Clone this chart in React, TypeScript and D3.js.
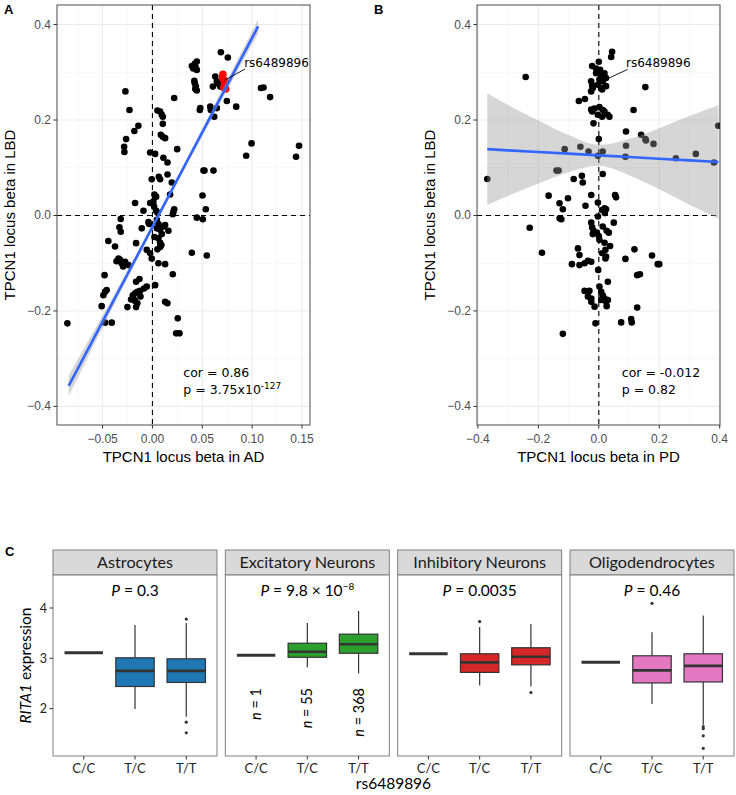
import React from 'react';
import * as d3 from 'd3';

// ---------------- Panel A data (x: beta in AD, y: beta in LBD) ----------------
const aPoints: [number, number][] = [
  [0.0686,0.342],[0.0756,0.331],
  [0.0445,0.3225],[0.0425,0.318],[0.0395,0.313],[0.0432,0.311],[0.0445,0.305],[0.041,0.308],
  [0.042,0.282],[0.0425,0.277],[0.0435,0.270],[0.043,0.265],[0.0445,0.262],
  [0.048,0.225],[0.0475,0.221],
  [0.058,0.228],[0.0585,0.221],[0.0646,0.225],[0.062,0.207],
  [0.063,0.291],[0.0606,0.270],[0.068,0.27],[0.0646,0.281],[0.066,0.276],
  [0.0746,0.240],[0.084,0.228],[0.1088,0.267],[0.1114,0.268],[0.118,0.248],
  [0.0994,0.151],[0.094,0.125],[0.147,0.146],[0.144,0.123],
  [0.0512,0.094],[0.0522,0.094],[0.0612,0.094],
  [0.0502,0.042],[0.0535,0.013],[0.0445,-0.0045],[0.0505,-0.008],
  [0.0395,-0.078],[0.0545,-0.084],
  [0.0218,0.246],[0.0248,0.139],
  [-0.0271,0.260],[-0.023,0.221],[-0.0141,0.188],[-0.0181,0.177],[-0.0264,0.160],[-0.0284,0.144],[-0.0281,0.133],
  [0.005,0.22],[0.0077,0.218],[0.0094,0.211],[0.0104,0.207],[0.0104,0.192],
  [0.0084,0.169],[0.0104,0.165],[0.0127,0.162],
  [-0.0023,0.132],[0.0027,0.129],[0.011,0.121],[0.0151,0.111],
  [0.0151,0.086],[0.0064,0.081],[0.0077,0.076],[-0.0007,0.076],[0.0194,0.069],
  [0.002,0.044],[0.0037,0.0395],[0.001,0.029],[0.0177,0.044],[-0.0023,0.026],[-0.0174,0.026],[-0.009,0.010],
  [0.0017,0.0185],[0.0037,0.010],[0.005,0.006],
  [0.0218,0.013],[0.0211,0.008],[0.0204,0.0025],
  [-0.0318,-0.0073],[-0.0331,-0.0248],[-0.0318,-0.034],
  [-0.004,-0.014],[-0.0033,-0.018],[-0.0107,-0.027],
  [0.0044,-0.009],[0.006,-0.018],[0.0044,-0.027],[0.0077,-0.030],[0.0094,-0.039],[0.011,-0.023],[0.016,-0.032],
  [0.0127,-0.020],[0.006,-0.048],[0.0077,-0.057],[0.0077,-0.066],[0.005,-0.071],[0.009,-0.062],[0.002,-0.045],
  [-0.0442,-0.0535],[-0.0375,-0.065],[-0.0164,-0.058],
  [-0.0057,-0.072],[-0.0023,-0.079],[-0.0007,-0.090],
  [-0.034,-0.090],[-0.0325,-0.093],[-0.031,-0.100],[-0.0294,-0.107],[-0.0274,-0.097],[-0.0241,-0.104],[-0.036,-0.096],
  [0.006,-0.1],[0.0127,-0.102],
  [-0.013,-0.133],[-0.0164,-0.139],[-0.048,-0.125],
  [-0.0459,-0.156],[-0.0475,-0.16],[-0.0492,-0.167],[-0.0509,-0.190],
  [0.0204,-0.123],[0.0027,-0.146],
  [-0.0057,-0.149],[-0.0084,-0.153],[-0.0124,-0.158],[-0.0151,-0.160],[-0.0174,-0.163],[-0.0197,-0.167],
  [-0.0214,-0.176],[-0.0174,-0.179],[-0.0151,-0.184],[-0.0164,-0.192],[-0.0251,-0.192],[-0.019,-0.174],[-0.012,-0.170],
  [0.0127,-0.181],[0.015,-0.184],
  [-0.0853,-0.226],[-0.0475,-0.2246],[-0.0408,-0.2246],
  [0.0254,-0.2155],[0.0238,-0.247],[0.0271,-0.247],
];
const aHighlight: [number, number][] = [
  [0.0707,0.296],[0.0702,0.288],[0.072,0.283],[0.0725,0.275],[0.0715,0.268],[0.073,0.280],[0.0735,0.265],
];
const aFitX = [-0.084, -0.06, -0.03, 0, 0.03, 0.06, 0.085, 0.106];
const aFitY = [-0.357, -0.262, -0.143, -0.024, 0.095, 0.214, 0.313, 0.396];
const aBandHalf = [0.022, 0.015, 0.009, 0.006, 0.006, 0.009, 0.012, 0.015];
const aXTicks = [-0.05, 0, 0.05, 0.1, 0.15];
const aXTickLabels = ['\u22120.05', '0.00', '0.05', '0.10', '0.15'];
const aXMinor = [-0.075, -0.025, 0.025, 0.075, 0.125];

// ---------------- Panel B data (x: beta in PD, y: beta in LBD) ----------------
const bPoints: [number, number][] = [
  [0.044,0.343],[0.041,0.332],[-0.242,0.290],
  [0,0.322],[-0.022,0.313],[-0.009,0.308],[0.0044,0.305],[-0.009,0.298],[0.0077,0.294],[0.0132,0.291],
  [0.0187,0.298],[0.024,0.288],[0.002,0.285],[0.0132,0.281],[-0.0033,0.274],[-0.0253,0.281],[-0.022,0.272],
  [-0.0198,0.267],[0.0077,0.267],[0.024,0.271],[0.011,0.264],[-0.0253,0.260],
  [-0.066,0.240],[-0.046,0.244],[0.154,0.269],
  [-0.0253,0.222],[-0.0143,0.224],[-0.022,0.218],[0.002,0.227],[0.0132,0.221],[0.0187,0.218],
  [0.0297,0.211],[0.0352,0.207],[0.011,0.207],[-0.0033,0.211],
  [-0.0175,0.193],[0.115,0.221],[0.395,0.188],[0.090,0.176],[0,0.160],
  [0.140,0.169],[0.154,0.160],[0.156,0.157],[0.181,0.150],[0.090,0.146],
  [-0.061,0.144],[-0.113,0.139],[-0.034,0.134],[0.013,0.134],[-0.003,0.125],[0.088,0.123],
  [0.255,0.120],[0.321,0.129],[0.381,0.111],[-0.369,0.0765],
  [-0.140,0.094],[-0.133,0.094],[0.013,0.087],
  [-0.083,0.0765],[-0.056,0.083],[-0.053,0.069],
  [-0.166,0.0415],[-0.102,0.036],[-0.025,0.043],[0.054,0.043],[0.057,0.038],
  [-0.130,0.0255],[-0.119,0.013],[-0.044,0.0205],[-0.003,0.027],[0.019,0.015],[0.024,0.013],[0.011,0.0115],
  [0.02,0.005],[-0.003,-0.002],[-0.1296,-0.006],[-0.124,-0.008],
  [-0.2286,-0.0256],[-0.188,-0.078],
  [-0.025,-0.015],[-0.022,-0.025],[-0.0175,-0.032],[-0.0066,-0.036],[-0.02,-0.039],[0,-0.043],
  [0.013,-0.023],[0.026,-0.032],[0.033,-0.036],[0.002,-0.051],[0.019,-0.057],[0.0376,-0.064],
  [0.022,-0.072],[0.011,-0.079],[0.024,-0.086],[0.022,-0.090],[0.0495,-0.015],
  [-0.069,-0.069],[-0.064,-0.083],[-0.089,-0.102],[-0.064,-0.104],[-0.047,-0.100],[-0.036,-0.095],[-0.025,-0.097],
  [-0.002,-0.114],
  [0.118,-0.071],[0.088,-0.091],[0.176,-0.084],[0.195,-0.102],[0.2,-0.102],
  [0.127,-0.125],[0.136,-0.123],[0.030,-0.139],
  [-0.047,-0.158],[-0.031,-0.158],[-0.036,-0.170],[-0.025,-0.181],[0.002,-0.149],[0.008,-0.160],[0.013,-0.167],
  [0.019,-0.174],[0.030,-0.177],[0.026,-0.190],[-0.014,-0.191],[0.008,-0.177],[0.024,-0.181],[-0.025,-0.174],
  [0.127,-0.193],[-0.011,-0.226],
  [0.074,-0.224],[0.107,-0.217],[0.109,-0.224],[-0.119,-0.248],
];
const bFitX = [-0.369, -0.3, -0.2, -0.1, 0, 0.1, 0.2, 0.3, 0.396];
const bFitY = [0.139, 0.1365, 0.133, 0.1295, 0.126, 0.1225, 0.119, 0.1155, 0.112];
const bBandHalf = [0.117, 0.095, 0.066, 0.039, 0.022, 0.038, 0.064, 0.093, 0.119];
const bXTicks = [-0.4, -0.2, 0, 0.2, 0.4];
const bXTickLabels = ['\u22120.4', '\u22120.2', '0.0', '0.2', '0.4'];
const bXMinor = [-0.3, -0.1, 0.1, 0.3];

const lbdYTicks = [-0.4, -0.2, 0, 0.2, 0.4];
const lbdYTickLabels = ['\u22120.4', '\u22120.2', '0.0', '0.2', '0.4'];
const lbdYMinor = [-0.3, -0.1, 0.1, 0.3];

// ---------------- Panel C data ----------------
const cellTypes = ['Astrocytes', 'Excitatory Neurons', 'Inhibitory Neurons', 'Oligodendrocytes'];
const genotypes = ['C/C', 'T/C', 'T/T'];
const cellColors = ['#1f77b4', '#2ca02c', '#d62728', '#e377c2'];
// [lower whisker, q1, median, q3, upper whisker]
const astrocytesBox = [[3.11,3.11,3.11,3.11,3.11],[1.99,2.44,2.75,3.01,3.66],[1.84,2.52,2.75,2.99,3.70]];
const astrocytesOut = [[], [], [1.73, 1.52, 3.78]];
const excitatoryBox = [[3.06,3.06,3.06,3.06,3.06],[2.82,3.02,3.13,3.30,3.70],[2.70,3.10,3.28,3.48,3.94]];
const excitatoryOut: number[][] = [[], [], []];
const inhibitoryBox = [[3.09,3.09,3.09,3.09,3.09],[2.46,2.72,2.92,3.09,3.62],[2.44,2.87,3.03,3.21,3.68]];
const inhibitoryOut = [[], [3.73], [2.32]];
const oligoBox = [[2.92,2.92,2.92,2.92,2.92],[2.09,2.51,2.76,3.05,3.52],[1.68,2.53,2.85,3.09,3.85]];
const oligoOut = [[], [4.09], [1.64, 1.60, 1.46, 1.21]];
const pValues = ['0.3', '9.8 \u00d7 10', '0.0035', '0.46'];
const pExponent = ['', '\u22128', '', ''];
const nLabels = ['1', '55', '368'];
const cYTicks = [2, 3, 4];

const SANS = '"Liberation Sans", Arial, Helvetica, sans-serif';
const DEJAVU = '"DejaVu Sans", Verdana, sans-serif';
const HUMAN = 'Lato, "Open Sans", sans-serif';

type ScatterProps = {
  id: string;
  x: d3.ScaleLinear<number, number>;
  y: d3.ScaleLinear<number, number>;
  points: [number, number][];
  highlight?: [number, number][];
  fitX: number[]; fitY: number[]; bandHalf: number[];
  xTicks: number[]; xTickLabels: string[]; xMinor: number[];
  xTitle: string; letter: string; letterX: number; yTitleX: number;
  corText: string; pMain: string; pSup?: string; corX: number;
  labelPos: [number, number]; leaderFrom: [number, number]; leaderTo: [number, number];
};

function Scatter(p: ScatterProps) {
  const { x, y } = p;
  const [x0, x1] = x.range();
  const [y1, y0] = y.range();
  const band = p.fitX.map((v, i) => ({ x: v, lo: p.fitY[i] - p.bandHalf[i], hi: p.fitY[i] + p.bandHalf[i], f: p.fitY[i] }));
  const area = d3.area<any>().x(d => x(d.x)).y0(d => y(d.lo)).y1(d => y(d.hi)).curve(d3.curveMonotoneX);
  const line = d3.line<any>().x(d => x(d.x)).y(d => y(d.f));
  return (
    <g>
      <defs>
        <clipPath id={p.id}><rect x={x0} y={y0} width={x1 - x0} height={y1 - y0} /></clipPath>
      </defs>
      <rect x={x0} y={y0} width={x1 - x0} height={y1 - y0} fill="#fff" />
      {p.xMinor.map(v => <line key={'xm' + v} x1={x(v)} x2={x(v)} y1={y0} y2={y1} stroke="#f2f2f2" strokeWidth={0.6} />)}
      {lbdYMinor.map(v => <line key={'ym' + v} x1={x0} x2={x1} y1={y(v)} y2={y(v)} stroke="#f2f2f2" strokeWidth={0.6} />)}
      {p.xTicks.map(v => <line key={'xg' + v} x1={x(v)} x2={x(v)} y1={y0} y2={y1} stroke="#ebebeb" strokeWidth={1.1} />)}
      {lbdYTicks.map(v => <line key={'yg' + v} x1={x0} x2={x1} y1={y(v)} y2={y(v)} stroke="#ebebeb" strokeWidth={1.1} />)}
      <g clipPath={`url(#${p.id})`}>
        <line x1={x(0)} x2={x(0)} y1={y0} y2={y1} stroke="#000" strokeWidth={1.1} strokeDasharray="5,4" />
        <line x1={x0} x2={x1} y1={y(0)} y2={y(0)} stroke="#000" strokeWidth={1.1} strokeDasharray="5,4" />
        {p.points.map((d, i) => <circle key={i} cx={x(d[0])} cy={y(d[1])} r={3.3} fill="#000" />)}
        {(p.highlight || []).map((d, i) => <circle key={'h' + i} cx={x(d[0])} cy={y(d[1])} r={3.8} fill="#ff0000" />)}
        <path d={area(band) || ''} fill="#999999" fillOpacity={0.4} />
        <path d={line(band) || ''} fill="none" stroke="#3366ff" strokeWidth={2.6} />
        <line x1={x(p.leaderFrom[0])} y1={y(p.leaderFrom[1])} x2={x(p.leaderTo[0])} y2={y(p.leaderTo[1])} stroke="#000" strokeWidth={0.9} />
      </g>
      <text x={x(p.labelPos[0])} y={y(p.labelPos[1])} fontFamily={DEJAVU} fontSize={12} fill="#000">rs6489896</text>
      <text x={x(p.corX)} y={y(-0.338)} fontFamily={DEJAVU} fontSize={12.5} fill="#000">{p.corText}</text>
      <text x={x(p.corX)} y={y(-0.375)} fontFamily={DEJAVU} fontSize={12.5} fill="#000">
        {p.pMain}
        {p.pSup ? <tspan dy={-5} fontSize={9}>{p.pSup}</tspan> : null}
      </text>
      <rect x={x0} y={y0} width={x1 - x0} height={y1 - y0} fill="none" stroke="#4d4d4d" strokeWidth={1} />
      {p.xTicks.map((v, i) => (
        <g key={'xt' + v}>
          <line x1={x(v)} x2={x(v)} y1={y1} y2={y1 + 3.6} stroke="#333" strokeWidth={1} />
          <text x={x(v)} y={y1 + 18} textAnchor="middle" fontFamily={SANS} fontSize={12} fill="#4d4d4d">{p.xTickLabels[i]}</text>
        </g>
      ))}
      {lbdYTicks.map((v, i) => (
        <g key={'yt' + v}>
          <line x1={x0 - 3.6} x2={x0} y1={y(v)} y2={y(v)} stroke="#333" strokeWidth={1} />
          <text x={x0 - 6} y={y(v) + 4} textAnchor="end" fontFamily={SANS} fontSize={12} fill="#4d4d4d">{lbdYTickLabels[i]}</text>
        </g>
      ))}
      <text x={(x0 + x1) / 2} y={y1 + 37} textAnchor="middle" fontFamily={SANS} fontSize={15} fill="#000">{p.xTitle}</text>
      <text transform={`translate(${p.yTitleX},${(y0 + y1) / 2}) rotate(-90)`} textAnchor="middle" fontFamily={SANS} fontSize={15} fill="#000">TPCN1 locus beta in LBD</text>
      <text x={p.letterX} y={14} fontFamily={SANS} fontWeight="bold" fontSize={13} fill="#000">{p.letter}</text>
    </g>
  );
}

function BoxPanels() {
  const yC = d3.scaleLinear().domain([1.058, 4.656]).range([756, 575]);
  const panelW = 164;
  const panelStep = 172.33;
  const firstX = 53;
  const stripTop = 550;
  const stripBottom = 575;
  const panelBottom = 756;
  const boxes = [astrocytesBox, excitatoryBox, inhibitoryBox, oligoBox];
  const outs = [astrocytesOut, excitatoryOut, inhibitoryOut, oligoOut];
  return (
    <g>
      <text x={5} y={556} fontFamily={SANS} fontWeight="bold" fontSize={13} fill="#000">C</text>
      {cellTypes.map((ct, ci) => {
        const px = firstX + ci * panelStep;
        const xs = d3.scalePoint<string>().domain(genotypes).range([px, px + panelW]).padding(0.6);
        const bw = xs.step() * 0.75;
        return (
          <g key={ct}>
            <rect x={px} y={stripTop} width={panelW} height={stripBottom - stripTop} fill="#d9d9d9" stroke="#808080" strokeWidth={1} />
            <text x={px + panelW / 2} y={568} textAnchor="middle" fontFamily={HUMAN} fontSize={16.2} fill="#1a1a1a">{ct}</text>
            <rect x={px} y={stripBottom} width={panelW} height={panelBottom - stripBottom} fill="#fff" stroke="#808080" strokeWidth={1} />
            <text x={px + panelW / 2} y={596} textAnchor="middle" fontFamily={HUMAN} fontSize={15.5} fill="#000">
              <tspan fontStyle="italic">P</tspan>{' = ' + pValues[ci]}
              {pExponent[ci] ? <tspan dy={-6} fontSize={10}>{pExponent[ci]}</tspan> : null}
            </text>
            {genotypes.map((g, gi) => {
              const cx = xs(g)!;
              const [lo, q1, med, q3, hi] = boxes[ci][gi];
              const single = q1 === q3;
              return (
                <g key={g}>
                  {single ? (
                    <line x1={cx - bw / 2} x2={cx + bw / 2} y1={yC(med)} y2={yC(med)} stroke="#333" strokeWidth={3} />
                  ) : (
                    <g>
                      <line x1={cx} x2={cx} y1={yC(hi)} y2={yC(q3)} stroke="#333" strokeWidth={1.2} />
                      <line x1={cx} x2={cx} y1={yC(q1)} y2={yC(lo)} stroke="#333" strokeWidth={1.2} />
                      <rect x={cx - bw / 2} y={yC(q3)} width={bw} height={yC(q1) - yC(q3)} fill={cellColors[ci]} stroke="#333" strokeWidth={1.2} />
                      <line x1={cx - bw / 2} x2={cx + bw / 2} y1={yC(med)} y2={yC(med)} stroke="#333" strokeWidth={2.6} />
                    </g>
                  )}
                  {outs[ci][gi].map((o, oi) => <circle key={oi} cx={cx} cy={yC(o)} r={1.6} fill="#333" />)}
                  <line x1={cx} x2={cx} y1={panelBottom} y2={panelBottom + 3.5} stroke="#333" strokeWidth={1} />
                  <text x={cx} y={773} textAnchor="middle" fontFamily={HUMAN} fontSize={13} fill="#222">{g}</text>
                  {ci === 1 ? (
                    <text transform={`translate(${cx},688) rotate(-90)`} dy="0.35em" textAnchor="end" fontFamily={HUMAN} fontSize={14.5} fill="#000">
                      <tspan fontStyle="italic">n</tspan>{' = ' + nLabels[gi]}
                    </text>
                  ) : null}
                </g>
              );
            })}
          </g>
        );
      })}
      {cYTicks.map(v => (
        <g key={v}>
          <line x1={firstX - 3.5} x2={firstX} y1={yC(v)} y2={yC(v)} stroke="#333" strokeWidth={1} />
          <text x={firstX - 6} y={yC(v) + 4.5} textAnchor="end" fontFamily={HUMAN} fontSize={12.5} fill="#222">{v}</text>
        </g>
      ))}
      <text transform={`translate(31,${(stripBottom + panelBottom) / 2}) rotate(-90)`} textAnchor="middle" fontFamily={HUMAN} fontSize={15.5} fill="#000">
        <tspan fontStyle="italic">RITA1</tspan>{' expression'}
      </text>
      <text x={(firstX + firstX + 3 * panelStep + panelW) / 2} y={789} textAnchor="middle" fontFamily={HUMAN} fontSize={15.5} fill="#000">rs6489896</text>
    </g>
  );
}

export default function App() {
  const yLBD = d3.scaleLinear().domain([-0.439, 0.441]).range([425, 5]);
  const xA = d3.scaleLinear().domain([-0.0957, 0.158]).range([57, 310]);
  const xB = d3.scaleLinear().domain([-0.403, 0.401]).range([477, 720]);
  return (
    <svg width={736} height={795} style={{ position: 'absolute', left: 0, top: 0, background: '#fff' }} xmlns="http://www.w3.org/2000/svg">
      <rect width={736} height={795} fill="#fff" />
      <Scatter id="clipA" x={xA} y={yLBD} points={aPoints} highlight={aHighlight}
        fitX={aFitX} fitY={aFitY} bandHalf={aBandHalf}
        xTicks={aXTicks} xTickLabels={aXTickLabels} xMinor={aXMinor}
        xTitle="TPCN1 locus beta in AD" letter="A" letterX={4} yTitleX={15}
        corText="cor = 0.86" pMain="p = 3.75x10" pSup="-127" corX={0.031}
        labelPos={[0.092, 0.312]} leaderFrom={[0.093, 0.307]} leaderTo={[0.072, 0.283]} />
      <Scatter id="clipB" x={xB} y={yLBD} points={bPoints}
        fitX={bFitX} fitY={bFitY} bandHalf={bBandHalf}
        xTicks={bXTicks} xTickLabels={bXTickLabels} xMinor={bXMinor}
        xTitle="TPCN1 locus beta in PD" letter="B" letterX={374} yTitleX={435}
        corText="cor = -0.012" pMain="p = 0.82" corX={0.076}
        labelPos={[0.090, 0.312]} leaderFrom={[0.095, 0.306]} leaderTo={[0.024, 0.285]} />
      <BoxPanels />
    </svg>
  );
}
